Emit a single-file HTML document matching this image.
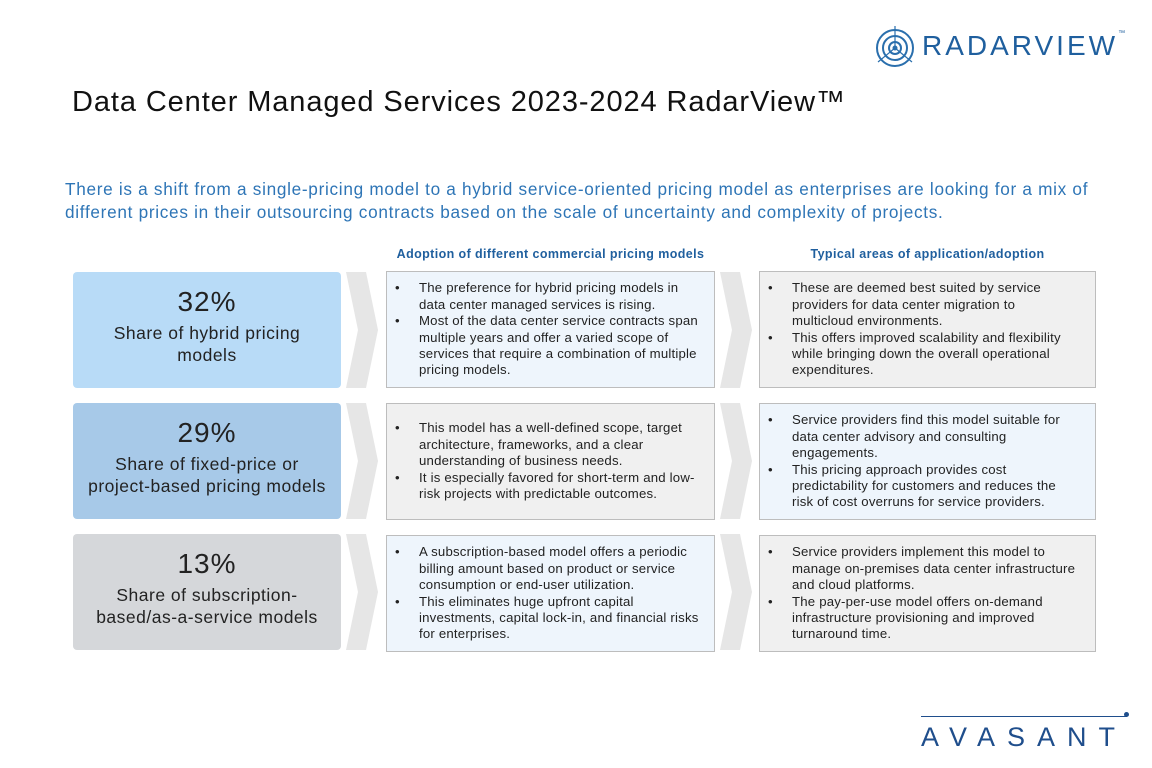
<!DOCTYPE html>
<html><head><meta charset="utf-8"><style>
body{margin:0;width:1152px;height:768px;background:#fff;font-family:"Liberation Sans",sans-serif;position:relative;overflow:hidden}
.a{position:absolute}
.title{left:72px;top:86px;font-size:29px;letter-spacing:0.9px;color:#111}
.sub{left:65px;top:178px;width:1080px;font-size:17.2px;letter-spacing:0.7px;line-height:23px;color:#2e75b6;white-space:nowrap}
.hd{font-size:12.5px;font-weight:bold;color:#1f5f9e;text-align:center;top:247px;letter-spacing:0.4px}
.lb{left:73px;width:268px;height:116px;border-radius:4px;text-align:center;color:#222}
.lb .p{font-size:28px;margin-top:14px;letter-spacing:1px}
.lb .t{font-size:17.5px;line-height:22px;margin-top:4px;letter-spacing:0.5px}
.bx{border:1px solid #bdbdbd;box-sizing:border-box;font-size:13.2px;letter-spacing:0.2px;line-height:16.4px;color:#222;padding:0 8px 0 8px;display:flex;align-items:center}
.bx ul{margin:0;padding:0 0 0 24px}
.bx li{list-style:none;position:relative}
.bx li:before{content:"•";position:absolute;left:-24px}
.m{left:386px;width:329px;height:117px}
.r{left:759px;width:337px;height:117px;padding-right:16px}
.bl{background:#eef5fc}.gr{background:#f0f0f0}
</style></head><body>
<svg class="a" style="left:870px;top:24px" width="50" height="50" viewBox="0 0 50 50"><g fill="none" stroke="#2a6fad" stroke-width="2"><circle cx="25" cy="24" r="18"/><circle cx="25" cy="24" r="12"/><circle cx="25" cy="24" r="6"/><path d="M25 2V24L8 38M25 24L42 38" stroke-width="1.2"/></g><circle cx="25" cy="24" r="2.5" fill="#2a6fad"/></svg>
<div class="a" style="left:922px;top:30px;font-size:28px;letter-spacing:3px;color:#1f5f9e">RADARVIEW<span style="font-size:7px;vertical-align:top">™</span></div>
<div class="a title">Data Center Managed Services 2023-2024 RadarView™</div>
<div class="a sub">There is a shift from a single-pricing model to a hybrid service-oriented pricing model as enterprises are looking for a mix of<br>different prices in their outsourcing contracts based on the scale of uncertainty and complexity of projects.</div>
<div class="a hd" style="left:386px;width:329px">Adoption of different commercial pricing models</div>
<div class="a hd" style="left:759px;width:337px">Typical areas of application/adoption</div>

<div class="a lb" style="top:272px;background:#b8dbf7"><div class="p">32%</div><div class="t">Share of hybrid pricing<br>models</div></div>
<div class="a lb" style="top:403px;background:#a7c9e8"><div class="p">29%</div><div class="t">Share of fixed-price or<br>project-based pricing models</div></div>
<div class="a lb" style="top:534px;background:#d5d7da"><div class="p">13%</div><div class="t">Share of subscription-<br>based/as-a-service models</div></div>

<svg class="a" style="left:0;top:0" width="1152" height="768">
<g fill="#e6e6e6">
<path d="M346 272L366 272L378 330L366 388L346 388L358 330Z"/>
<path d="M346 403L366 403L378 461L366 519L346 519L358 461Z"/>
<path d="M346 534L366 534L378 592L366 650L346 650L358 592Z"/>
<path d="M720 272L740 272L752 330L740 388L720 388L732 330Z"/>
<path d="M720 403L740 403L752 461L740 519L720 519L732 461Z"/>
<path d="M720 534L740 534L752 592L740 650L720 650L732 592Z"/>
</g></svg>

<div class="a bx m bl" style="top:271px"><ul><li>The preference for hybrid pricing models in data center managed services is rising.</li><li>Most of the data center service contracts span multiple years and offer a varied scope of services that require a combination of multiple pricing models.</li></ul></div>
<div class="a bx r gr" style="top:271px"><ul><li>These are deemed best suited by service providers for data center migration to multicloud environments.</li><li>This offers improved scalability and flexibility while bringing down the overall operational expenditures.</li></ul></div>
<div class="a bx m gr" style="top:403px"><ul><li>This model has a well-defined scope, target architecture, frameworks, and a clear understanding of business needs.</li><li>It is especially favored for short-term and low-risk projects with predictable outcomes.</li></ul></div>
<div class="a bx r bl" style="top:403px"><ul><li>Service providers find this model suitable for data center advisory and consulting engagements.</li><li>This pricing approach provides cost predictability for customers and reduces the risk of cost overruns for service providers.</li></ul></div>
<div class="a bx m bl" style="top:535px"><ul><li>A subscription-based model offers a periodic billing amount based on product or service consumption or end-user utilization.</li><li>This eliminates huge upfront capital investments, capital lock-in, and financial risks for enterprises.</li></ul></div>
<div class="a bx r gr" style="top:535px"><ul><li>Service providers implement this model to manage on-premises data center infrastructure and cloud platforms.</li><li>The pay-per-use model offers on-demand infrastructure provisioning and improved turnaround time.</li></ul></div>

<div class="a" style="left:921px;top:716px;width:206px;height:1px;background:#1f4e8c"></div>
<div class="a" style="left:1124px;top:712px;width:5px;height:5px;border-radius:50%;background:#1f4e8c"></div>
<div class="a" style="left:921px;top:722px;font-size:27px;letter-spacing:12px;color:#1f4e8c">AVASANT</div>
</body></html>
